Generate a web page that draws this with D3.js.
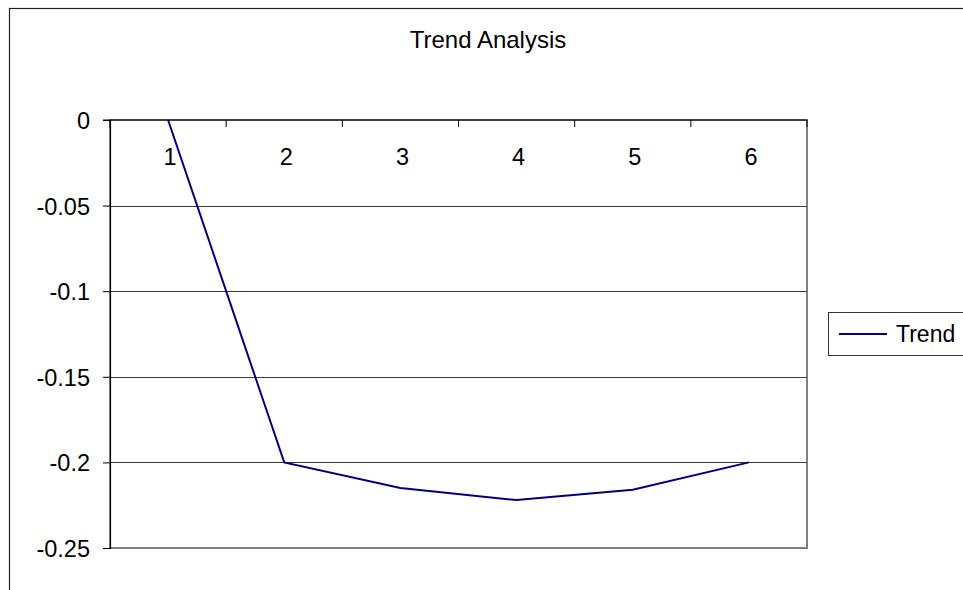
<!DOCTYPE html>
<html>
<head>
<meta charset="utf-8">
<script src="https://cdn.jsdelivr.net/npm/d3@7"></script>
<style>
  html, body { margin: 0; padding: 0; background: #fff; }
  svg { display: block; }
  text { font-family: "Liberation Sans", Arial, sans-serif; fill: #000; }
</style>
</head>
<body>
<svg id="chart" width="963" height="590"></svg>
<script>
const categories = ["1", "2", "3", "4", "5", "6"];
const trendValues = [0, -0.2, -0.215, -0.222, -0.216, -0.2];
const yTicks = [0, -0.05, -0.1, -0.15, -0.2, -0.25];
const yTickLabels = ["0", "-0.05", "-0.1", "-0.15", "-0.2", "-0.25"];
const seriesName = "Trend";
const chartTitle = "Trend Analysis";

const svg = d3.select("#chart");
const plot = { left: 110, top: 120, right: 807, bottom: 548 };
const labelSize = "23.5px";

// outer chart border (extends past the window on right/bottom)
svg.append("rect")
  .attr("x", 9.5).attr("y", 8.5)
  .attr("width", 1000).attr("height", 1000)
  .attr("fill", "#fff").attr("stroke", "#222").attr("stroke-width", 1.2);

const x = d3.scaleBand().domain(categories).range([plot.left, plot.right]);
const y = d3.scaleLinear().domain([-0.25, 0]).range([plot.bottom, plot.top]);

// plot area border (gray right & bottom)
svg.append("rect")
  .attr("x", plot.left).attr("y", plot.top)
  .attr("width", plot.right - plot.left).attr("height", plot.bottom - plot.top)
  .attr("fill", "#fff").attr("stroke", "#808080").attr("stroke-width", 2);

// gridlines
svg.append("g")
  .selectAll("line")
  .data(yTicks.filter(v => v !== 0 && v !== -0.25))
  .join("line")
  .attr("x1", plot.left).attr("x2", plot.right)
  .attr("y1", d => Math.round(y(d)) + 0.5).attr("y2", d => Math.round(y(d)) + 0.5)
  .attr("stroke", "#3a3a3a").attr("stroke-width", 1);

// y axis
const yAxis = d3.axisLeft(y)
  .tickValues(yTicks)
  .tickFormat((d, i) => yTickLabels[i])
  .tickSize(7).tickPadding(13);
const gy = svg.append("g").attr("transform", `translate(${plot.left},0)`).call(yAxis);
gy.select(".domain").attr("stroke", "#000").attr("stroke-width", 1.2);
gy.selectAll(".tick line").attr("stroke", "#000");
gy.selectAll(".tick text")
  .style("font-size", labelSize)
  .style("font-family", '"Liberation Sans", Arial, sans-serif')
  .attr("dy", "0.36em");

// x axis at value 0 (top), ticks between categories pointing down
const boundaries = categories.map(c => x(c)).concat([plot.right]);
const gx = svg.append("g");
gx.append("line")
  .attr("x1", plot.left - 7).attr("x2", plot.right)
  .attr("y1", y(0)).attr("y2", y(0))
  .attr("stroke", "#000").attr("stroke-width", 1.2);
gx.selectAll("line.xt")
  .data(boundaries)
  .join("line").attr("class", "xt")
  .attr("x1", d => d).attr("x2", d => d)
  .attr("y1", y(0)).attr("y2", y(0) + 7)
  .attr("stroke", "#000").attr("stroke-width", 1);
gx.selectAll("text")
  .data(categories)
  .join("text")
  .attr("x", d => x(d) + x.bandwidth() / 2 + 2)
  .attr("y", y(0) + 45)
  .attr("text-anchor", "middle")
  .style("font-size", labelSize)
  .text(d => d);

// line
const line = d3.line()
  .x((d, i) => x(categories[i]) + x.bandwidth() / 2)
  .y(d => y(d));
svg.append("path")
  .datum(trendValues)
  .attr("d", line)
  .attr("fill", "none")
  .attr("stroke", "#000080")
  .attr("stroke-width", 2);

// title
svg.append("text")
  .attr("x", 488).attr("y", 48)
  .attr("text-anchor", "middle")
  .style("font-size", "24px")
  .text(chartTitle);

// legend
const lg = svg.append("g");
lg.append("rect")
  .attr("x", 828.5).attr("y", 312.5)
  .attr("width", 200).attr("height", 43)
  .attr("fill", "#fff").attr("stroke", "#333").attr("stroke-width", 1);
lg.append("line")
  .attr("x1", 839).attr("x2", 887)
  .attr("y1", 334).attr("y2", 334)
  .attr("stroke", "#000080").attr("stroke-width", 2);
lg.append("text")
  .attr("x", 896).attr("y", 342)
  .style("font-size", "23px")
  .text(seriesName);
</script>
</body>
</html>
